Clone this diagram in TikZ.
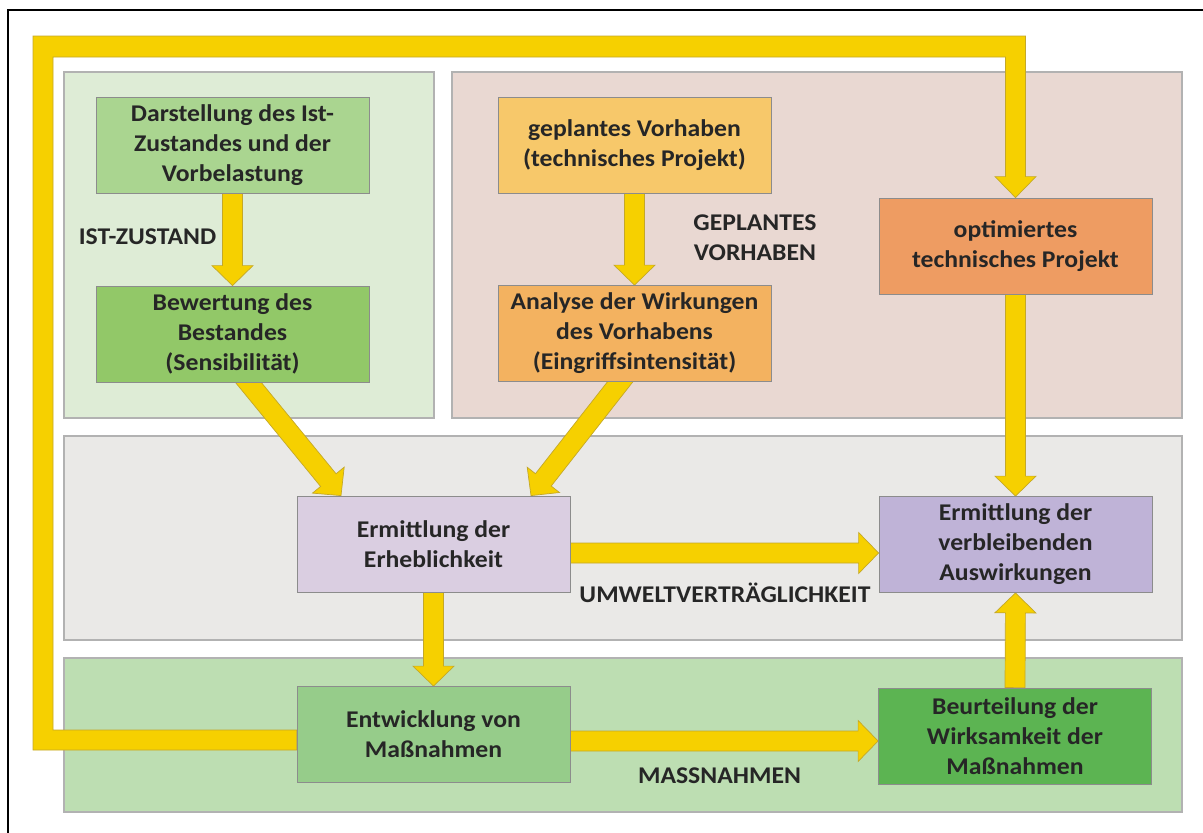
\documentclass[tikz,border=0pt]{standalone}
\usepackage{fontspec}
\setmainfont{Carlito}[FakeStretch=1.07]
\usetikzlibrary{calc}

\definecolor{yfill}{RGB}{246,208,0}
\definecolor{yedge}{RGB}{196,168,40}
\definecolor{istpanel}{RGB}{222,236,214}
\definecolor{vorpanel}{RGB}{233,216,210}
\definecolor{uvppanel}{RGB}{234,233,231}
\definecolor{masspanel}{RGB}{189,222,178}
\definecolor{darstfill}{RGB}{170,213,144}
\definecolor{bewfill}{RGB}{146,200,104}
\definecolor{geplfill}{RGB}{247,200,106}
\definecolor{analfill}{RGB}{243,178,96}
\definecolor{optfill}{RGB}{238,156,98}
\definecolor{erhfill}{RGB}{218,206,225}
\definecolor{verbfill}{RGB}{191,179,215}
\definecolor{entfill}{RGB}{150,204,138}
\definecolor{beurfill}{RGB}{92,180,82}

\pgfdeclarelayer{bg}
\pgfdeclarelayer{arrows}
\pgfsetlayers{bg,arrows,main}

\tikzset{
  box/.style={draw=black!45, line width=0.8pt, minimum width=273pt, minimum height=96pt,
    align=center, text=black!85, font=\fontsize{24}{30}\selectfont\bfseries},
  lbl/.style={align=center, text=black!85, font=\fontsize{24}{30}\selectfont\bfseries},
  panel/.style={draw=black!30, line width=1.2pt},
  yarrow/.style={fill=yfill, draw=yedge, line width=0.7pt, line join=miter}
}

% block arrow from #1 to #2
\newcommand{\blockarrow}[2]{%
  \coordinate (ba) at ($(#2)!20pt!(#1)$);
  \filldraw[yarrow] ($(#1)!10pt!90:(#2)$) -- ($(ba)!10pt!-90:(#1)$) -- ($(ba)!20.5pt!-90:(#1)$)
    -- (#2) -- ($(ba)!20.5pt!90:(#1)$) -- ($(ba)!10pt!90:(#1)$) -- ($(#1)!10pt!-90:(#2)$) -- cycle;}

\begin{document}
\begin{tikzpicture}[x=1pt, y=-1pt]
    \useasboundingbox (0,0) rectangle (1203,833);
    \draw[line width=2pt] (8,833) |- (1203,10);

    \begin{pgfonlayer}{bg}
        \draw[panel, fill=istpanel] (64,72) rectangle (434,418);
        \draw[panel, fill=vorpanel] (452,72) rectangle (1182,418);
        \draw[panel, fill=uvppanel] (64,436) rectangle (1182,640);
        \draw[panel, fill=masspanel] (64,658) rectangle (1182,812);
    \end{pgfonlayer}

    \node[box, fill=darstfill] (darst) at (232.5,145) {Darstellung des Ist-\\Zustandes und der\\Vorbelastung};
    \node[box, fill=bewfill] (bew) at (232.5,334) {Bewertung des\\Bestandes\\(Sensibilität)};
    \node[box, fill=geplfill] (gepl) at (634.5,145) {geplantes Vorhaben\\(technisches Projekt)};
    \node[box, fill=analfill] (anal) at (634.5,333.5) {Analyse der Wirkungen\\des Vorhabens\\(Eingriffsintensität)};
    \node[box, fill=optfill] (opt) at (1015.5,246) {optimiertes\\technisches Projekt};
    \node[box, fill=erhfill] (erh) at (433.5,544) {Ermittlung der\\Erheblichkeit};
    \node[box, fill=verbfill] (verb) at (1015.5,544.5) {Ermittlung der\\verbleibenden\\Auswirkungen};
    \node[box, fill=entfill] (ent) at (433.5,734.5) {Entwicklung von\\Maßnahmen};
    \node[box, fill=beurfill] (beur) at (1015,736) {Beurteilung der\\Wirksamkeit der\\Maßnahmen};

    \node[lbl] (istlbl) at (147.5,237) {IST-ZUSTAND};
    \node[lbl] (vorlbl) at (755,238) {GEPLANTES\\VORHABEN};
    \node[lbl] (uvplbl) at (725,593) {UMWELTVERTRÄGLICHKEIT};
    \node[lbl] (masslbl) at (719.5,776) {MASSNAHMEN};

    \coordinate (bewS) at ($(bew.south)+(6,-12)$);
    \coordinate (analS) at ($(anal.south)+(-5,-12)$);
    \coordinate (erhNl) at ($(erh.north)+(-92.5,0)$);
    \coordinate (erhNr) at ($(erh.north)+(97.5,0)$);
    \coordinate (erhE) at ($(erh.east)+(0,9)$);
    \coordinate (verbW) at ($(verb.west)+(0,8.5)$);
    \coordinate (entE) at ($(ent.east)+(0,6.5)$);
    \coordinate (beurW) at ($(beur.west)+(0,5)$);
    \coordinate (loopin) at (53,57);
    \coordinate (loopout) at (33,36);

    \begin{pgfonlayer}{arrows}
        \blockarrow{darst.south}{bew.north}
        \blockarrow{gepl.south}{anal.north}
        \blockarrow{opt.south}{verb.north}
        \blockarrow{beur.north}{verb.south}
        \blockarrow{erh.south}{ent.north}
        \blockarrow{erhE}{verbW}
        \blockarrow{entE}{beurW}
        \blockarrow{bewS}{erhNl}
        \blockarrow{analS}{erhNr}
        \filldraw[yarrow] ($(ent.west)+(0,-4.5)$) -| (loopin) -| ($(opt.north)+(-10,-21)$) -- ++(-10.5,0)
            -- (opt.north) -- ++(20.5,-21) -- ++(-10.5,0) |- (loopout) |- ($(ent.west)+(0,15.5)$) -- cycle;
    \end{pgfonlayer}
\end{tikzpicture}
\end{document}
